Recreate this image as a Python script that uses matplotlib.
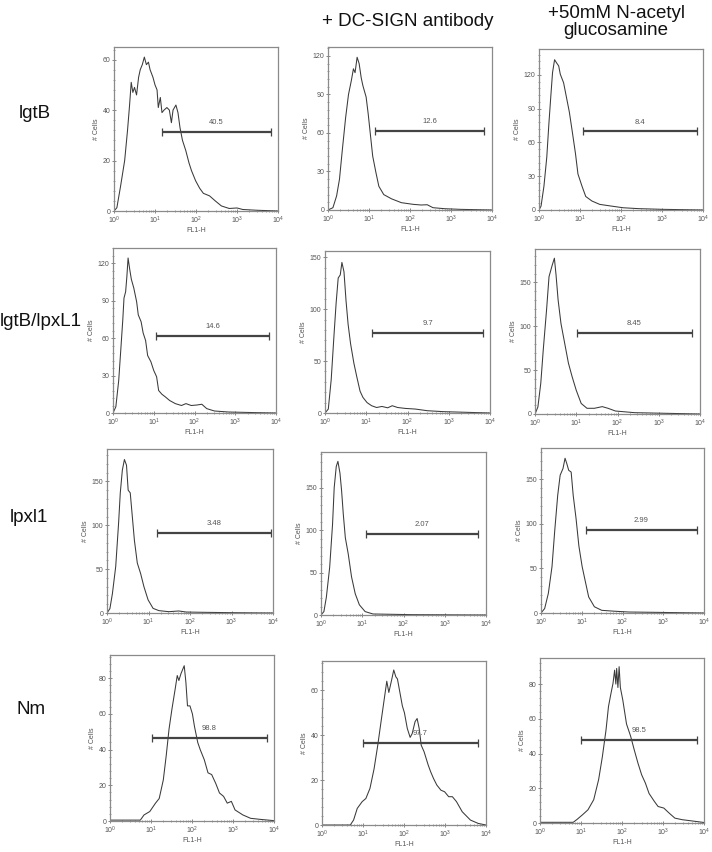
import matplotlib
matplotlib.use("Agg")
import matplotlib.pyplot as plt
from matplotlib.ticker import LogLocator, AutoMinorLocator, NullFormatter
import numpy as np

plt.rcParams['font.family'] = ['Liberation Sans', 'DejaVu Sans']

row_labels = ["lgtB", "lgtB/lpxL1", "lpxl1", "Nm"]
col_labels = ["", "+ DC-SIGN antibody", "+50mM N-acetyl\nglucosamine"]

# ---- histogram data: log10(FL1-H) and # Cells ----
r1c1_logx = [0.0, 0.07, 0.16, 0.26, 0.33, 0.38, 0.42, 0.46, 0.5, 0.55, 0.6, 0.64, 0.69, 0.74, 0.79, 0.84, 0.88,
             0.95, 1.0, 1.05, 1.08, 1.13, 1.17, 1.22, 1.29, 1.35, 1.4, 1.44, 1.51, 1.56, 1.61, 1.67, 1.75, 1.83,
             1.89, 1.99, 2.09, 2.18, 2.33, 2.47, 2.62, 2.81, 3.0, 3.14, 3.48, 4.0]
r1c1_cells = [0, 1.3, 9.8, 20, 32, 42, 51, 47, 49, 46, 53, 56, 58, 61, 58, 59, 56,
              53, 50, 48, 41, 45, 39, 40, 41, 40, 35, 40, 42, 39, 33, 28, 24, 19,
              16, 12, 9, 7, 6, 4, 2, 1, 1.2, 0.6, 0.3, 0]

r1c2_logx = [0.0, 0.12, 0.21, 0.28, 0.35, 0.43, 0.5, 0.57, 0.62, 0.66, 0.71, 0.76, 0.81, 0.85, 0.93, 0.98, 1.03,
             1.09, 1.17, 1.24, 1.36, 1.55, 1.79, 2.08, 2.27, 2.42, 2.56, 2.85, 3.23, 4.0]
r1c2_cells = [0, 1.8, 11, 24, 47, 72, 90, 101, 110, 107, 119, 114, 103, 97, 88, 75, 60,
              42, 29, 18.5, 12, 8.7, 5.7, 4.4, 3.9, 4.1, 1.8, 1, 0.5, 0]

r1c3_logx = [0.0, 0.05, 0.12, 0.19, 0.24, 0.29, 0.33, 0.38, 0.43, 0.48, 0.52, 0.6, 0.67, 0.74, 0.81, 0.89, 0.95,
             1.05, 1.14, 1.29, 1.48, 1.76, 2.05, 2.43, 3.0, 4.0]
r1c3_cells = [0, 3.5, 21, 47, 76, 102, 122, 133.5, 130.6, 128, 120.5, 113, 100, 87, 70, 50, 32,
              21, 12, 8, 5, 3.5, 2, 1.2, 0.6, 0]

r2c1_logx = [0.0, 0.07, 0.14, 0.19, 0.24, 0.27, 0.31, 0.34, 0.37, 0.41, 0.45, 0.51, 0.58, 0.62, 0.69, 0.74, 0.8,
             0.85, 0.93, 1.0, 1.07, 1.12, 1.2, 1.28, 1.39, 1.53, 1.68, 1.79, 1.92, 2.06, 2.18, 2.3, 2.49, 2.83,
             3.5, 4.0]
r2c1_cells = [0, 5, 26, 50, 74.5, 92, 97, 109, 124, 115, 107, 100, 89, 78.5, 73, 64, 58,
              46, 41, 34, 29, 18, 15, 13, 10, 7.5, 6, 7.5, 6, 6.4, 7, 3.5, 1.6, 0.8,
              0.3, 0]

r2c2_logx = [0.0, 0.08, 0.15, 0.22, 0.27, 0.32, 0.37, 0.41, 0.46, 0.51, 0.56, 0.62, 0.7, 0.77, 0.85, 0.92, 1.02,
             1.13, 1.25, 1.38, 1.52, 1.63, 1.76, 1.95, 2.19, 2.48, 2.87, 4.0]
r2c2_cells = [0, 3.8, 32, 76, 106, 130, 133, 145, 136, 108, 85.5, 66.7, 48, 35, 21, 15, 10,
              7, 5.3, 6.3, 5, 7, 5.3, 4.4, 3.8, 2.2, 1.3, 0]

r2c3_logx = [0.0, 0.07, 0.14, 0.2, 0.28, 0.34, 0.42, 0.47, 0.51, 0.56, 0.63, 0.72, 0.81, 0.9, 1.0, 1.12, 1.26,
             1.44, 1.63, 1.77, 1.95, 2.42, 3.16, 4.0]
r2c3_cells = [0, 8, 35, 73, 118.5, 156.5, 170, 177.5, 158.5, 130, 103, 80.5, 58, 42.5, 27, 12, 6.5,
              6.5, 8.4, 6.5, 3.4, 1.5, 0.8, 0]

r3c1_logx = [0.0, 0.07, 0.13, 0.21, 0.28, 0.32, 0.37, 0.42, 0.47, 0.51, 0.56, 0.61, 0.66, 0.73, 0.81, 0.89, 0.99,
             1.11, 1.25, 1.49, 1.73, 1.91, 2.29, 2.96, 4.0]
r3c1_cells = [0, 5, 22, 53, 103, 137, 163, 175, 168.5, 140, 137, 110, 83, 57, 45, 30, 15,
              5.3, 2.7, 1.5, 2.3, 1.1, 0.8, 0.4, 0]

r3c2_logx = [0.0, 0.07, 0.13, 0.21, 0.28, 0.32, 0.37, 0.41, 0.46, 0.5, 0.54, 0.59, 0.66, 0.74, 0.83, 0.93, 1.07,
             1.26, 2.21, 4.0]
r3c2_cells = [0, 4, 21, 56, 107, 150, 175, 181, 167, 146, 119, 91, 72, 45, 25, 12, 4,
              1.2, 0.4, 0]

r3c3_logx = [0.0, 0.09, 0.18, 0.27, 0.34, 0.41, 0.47, 0.54, 0.59, 0.63, 0.68, 0.74, 0.79, 0.86, 0.93, 1.01, 1.08,
             1.17, 1.31, 1.49, 1.8, 2.16, 2.7, 4.0]
r3c3_cells = [0, 5, 22, 52, 94, 132, 154.5, 162, 173.5, 168, 160, 158, 132, 106, 75, 52, 37,
              18, 7, 3, 2, 1.1, 0.8, 0]

r4c1_logx = [0.0, 0.74, 0.83, 0.97, 1.11, 1.2, 1.3, 1.37, 1.44, 1.51, 1.59, 1.64, 1.68, 1.73, 1.78, 1.81, 1.85,
             1.89, 1.95, 2.01, 2.06, 2.14, 2.2, 2.3, 2.39, 2.48, 2.58, 2.67, 2.77, 2.86, 2.96, 3.05, 3.24, 3.43,
             3.67, 4.0]
r4c1_cells = [0.5, 0.5, 3.4, 5.3, 10, 12.6, 23, 36.4, 51.5, 62.6, 74, 81.5, 78.7, 82.5, 85.3, 87, 78,
              64.5, 64.5, 60, 53, 44, 40, 34.3, 27, 26, 21, 15.7, 13.8, 10, 11, 6.2, 3.4, 1.5,
              0.9, 0.2]

r4c2_logx = [0.0, 0.69, 0.77, 0.86, 0.98, 1.07, 1.17, 1.27, 1.36, 1.44, 1.51, 1.58, 1.63, 1.7, 1.75, 1.8, 1.84,
             1.89, 1.96, 2.01, 2.08, 2.15, 2.2, 2.27, 2.32, 2.37, 2.42, 2.49, 2.59, 2.65, 2.72, 2.8, 2.9, 2.99,
             3.09, 3.18, 3.28, 3.42, 3.62, 3.81, 4.0]
r4c2_cells = [0, 0, 2.2, 7.4, 10.4, 11.8, 16.3, 25, 35.5, 46, 55, 64, 59, 64.7, 69, 66, 65,
              60, 53, 50, 43, 39, 40.7, 46, 47.4, 43, 35.5, 32.6, 26.7, 23.7, 20.7, 17.8, 15.5, 14.8,
              12.6, 12.6, 10.4, 5.9, 2.2, 0.7, 0]

r4c3_logx = [0.0, 0.81, 0.9, 1.04, 1.17, 1.31, 1.43, 1.52, 1.61, 1.67, 1.73, 1.78, 1.82, 1.85, 1.87, 1.9, 1.93,
             1.96, 2.02, 2.11, 2.21, 2.3, 2.39, 2.48, 2.57, 2.66, 2.79, 2.88, 3.02, 3.15, 3.29, 3.47, 4.0]
r4c3_cells = [0.4, 0.4, 2, 4.8, 7.6, 13.4, 25, 38, 53.5, 67, 74.5, 80.3, 88, 80, 89, 78, 90,
              78, 70.7, 57, 50, 42, 34.4, 27.7, 23, 17, 12.4, 9.5, 8.6, 5.7, 2.8, 1.9, 0.3]

# ---- gate markers: low/high (log10 FL1-H), bar height (# Cells), percent ----
gate_lo = [[1.17, 1.15, 1.07], [1.06, 1.14, 1.02], [1.2, 1.09, 1.1], [1.02, 1.0, 1.0]]
gate_hi = [[3.83, 3.8, 3.85], [3.83, 3.83, 3.8], [3.95, 3.8, 3.83], [3.83, 3.8, 3.83]]
gate_y = [[31.5, 61.5, 70], [62, 77, 92], [91, 96, 93.5], [46.6, 36.4, 47.9]]
gate_pct = [["40.5", "12.6", "8.4"], ["14.6", "9.7", "8.45"], ["3.48", "2.07", "2.99"], ["98.8", "97.7", "98.5"]]

# ---- axis scales ----
y_max = [[65, 127, 143], [132, 156, 188], [187, 192, 185], [93, 73, 95]]
y_ticks = [[[0, 20, 40, 60], [0, 30, 60, 90, 120], [0, 30, 60, 90, 120]],
           [[0, 30, 60, 90, 120], [0, 50, 100, 150], [0, 50, 100, 150]],
           [[0, 50, 100, 150], [0, 50, 100, 150], [0, 50, 100, 150]],
           [[0, 20, 40, 60, 80], [0, 20, 40, 60], [0, 20, 40, 60, 80]]]

curves = [[(r1c1_logx, r1c1_cells), (r1c2_logx, r1c2_cells), (r1c3_logx, r1c3_cells)],
          [(r2c1_logx, r2c1_cells), (r2c2_logx, r2c2_cells), (r2c3_logx, r2c3_cells)],
          [(r3c1_logx, r3c1_cells), (r3c2_logx, r3c2_cells), (r3c3_logx, r3c3_cells)],
          [(r4c1_logx, r4c1_cells), (r4c2_logx, r4c2_cells), (r4c3_logx, r4c3_cells)]]

# panel boxes in pixels: left, top, right, bottom
boxes = [[(114, 47, 278, 211), (328, 47, 492, 210), (539, 49, 703, 210)],
         [(113, 248, 276, 413), (325, 251, 490, 413), (535, 249, 700, 414)],
         [(107, 449, 273, 613), (321, 452, 486, 615), (541, 448, 704, 613)],
         [(110, 655, 274, 821), (322, 661, 486, 825), (540, 658, 704, 823)]]

W, H = 712, 852
fig = plt.figure(figsize=(W / 100, H / 100), dpi=100)

line_col = '#3a3a3a'
for r in range(4):
    for c in range(3):
        l, t, rr, b = boxes[r][c]
        ax = fig.add_axes([l / W, 1 - b / H, (rr - l) / W, (b - t) / H])
        lx, cy = curves[r][c]
        ax.plot(10 ** np.array(lx), cy, color=line_col, lw=0.75)
        ax.set_xscale('log')
        ax.set_xlim(1, 1e4)
        ax.set_ylim(0, y_max[r][c])
        ax.set_yticks(y_ticks[r][c])
        ax.yaxis.set_minor_locator(AutoMinorLocator(5))
        ax.xaxis.set_major_locator(LogLocator(base=10, numticks=10))
        ax.xaxis.set_minor_locator(LogLocator(base=10, subs=np.arange(2, 10), numticks=10))
        ax.xaxis.set_minor_formatter(NullFormatter())
        ax.tick_params(axis='both', which='major', labelsize=5, length=2.5, width=0.5,
                       colors='#555555', pad=1.5, direction='inout')
        ax.tick_params(axis='both', which='minor', length=1.5, width=0.4, colors='#555555', direction='inout')
        for s in ax.spines.values():
            s.set_color('#8a8a8a')
            s.set_linewidth(0.9)
        ax.set_ylabel('# Cells', fontsize=5, color='#555555', labelpad=2)
        ax.set_xlabel('FL1-H', fontsize=5, color='#555555', labelpad=0.5)
        lo, hi, gy = 10 ** gate_lo[r][c], 10 ** gate_hi[r][c], gate_y[r][c]
        ax.plot([lo, hi], [gy, gy], color='#444444', lw=1.6, marker='|', markersize=6,
                markeredgewidth=0.9, solid_capstyle='butt')
        ax.text(np.sqrt(lo * hi), gy + 0.035 * y_max[r][c], gate_pct[r][c], fontsize=5.5,
                color='#555555', ha='center', va='bottom')

# row labels
row_x = [19, 0, 10, 17]
row_y = [113, 322, 517, 710]
for lab, x, y in zip(row_labels, row_x, row_y):
    fig.text(x / W, 1 - y / H, lab, fontsize=13.5, ha='left', va='center', color='#111111')

# column headers
fig.text(408 / W, 1 - 22 / H, col_labels[1], fontsize=13.5, ha='center', va='center', color='#111111')
fig.text(616 / W, 1 - 22 / H, col_labels[2], fontsize=13.5, ha='center', va='center', color='#111111',
         linespacing=1.05)

fig.savefig('out.png', dpi=100, facecolor='white')
